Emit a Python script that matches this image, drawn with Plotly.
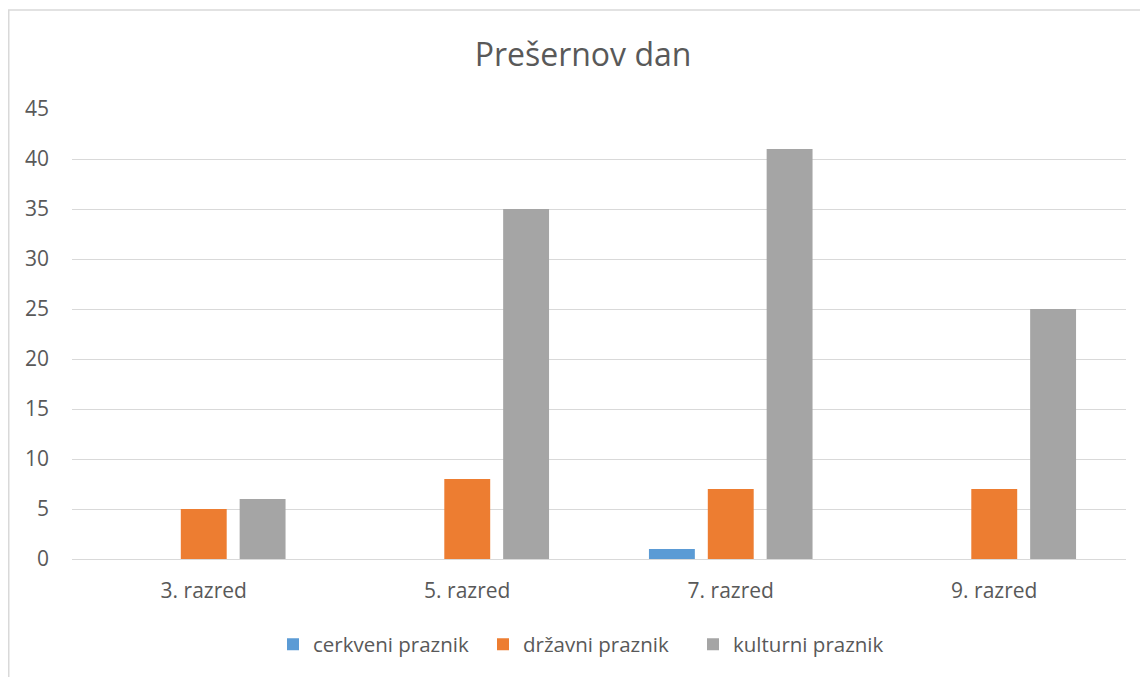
import plotly.graph_objects as go

categories = ["3. razred", "5. razred", "7. razred", "9. razred"]
cerkveni = [0, 0, 1, 0]
drzavni = [5, 8, 7, 7]
kulturni = [6, 35, 41, 25]
series_names = ["cerkveni praznik", "državni praznik", "kulturni praznik"]
colors = ["#5B9BD5", "#ED7D31", "#A5A5A5"]
y_ticks = [0, 5, 10, 15, 20, 25, 30, 35, 40, 45]

OFF = 8  # page body margin
W, H = 1148 - OFF, 677 - OFF
L = 72 - OFF
R = W - (1126 - OFF)
T = 108.7 - OFF
B = H - (558.7 - OFF)
pw, ph = W - L - R, H - T - B

def px_x(X):
    return (X - OFF - L) / pw

def px_y(Y):
    return (H - B - (Y - OFF)) / ph

fig = go.Figure()
for name, vals, col in zip(series_names, [cerkveni, drzavni, kulturni], colors):
    fig.add_trace(go.Bar(x=categories, y=vals, name=name, marker=dict(color=col, line=dict(width=0))))

font_family = "Open Sans, DejaVu Sans, sans-serif"
txt = "#595959"

fig.update_layout(
    width=W, height=H,
    margin=dict(l=L, r=R, t=T, b=B, pad=0),
    paper_bgcolor="white", plot_bgcolor="white",
    barmode="group", bargap=0.33, bargroupgap=0.22,
    font=dict(family=font_family, color=txt, size=21),
    title=dict(text="Prešernov dan", x=(583 - OFF) / W, xanchor="center",
               y=1 - (55 - OFF) / H, yanchor="middle",
               font=dict(size=32, color=txt, family=font_family)),
    xaxis=dict(showgrid=False, showline=False, ticks="", ticklabelstandoff=17,
               tickfont=dict(size=21, color=txt)),
    yaxis=dict(range=[0, 45], tickvals=y_ticks, showgrid=True, gridcolor="#D9D9D9", gridwidth=1,
               zeroline=True, zerolinecolor="#D9D9D9", zerolinewidth=1, showline=False,
               ticks="", ticklabelstandoff=22, tickfont=dict(size=21, color=txt)),
    legend=dict(orientation="h", x=px_x(588), xanchor="center", y=px_y(644), yanchor="middle",
                font=dict(size=20.5, color=txt), traceorder="normal", itemwidth=30,
                entrywidth=165, entrywidthmode="pixels"),
    showlegend=True,
    shapes=[dict(type="rect", xref="paper", yref="paper",
                 x0=px_x(8.75), x1=px_x(1170), y0=px_y(700), y1=px_y(9.75),
                 line=dict(color="#D9D9D9", width=1.5), fillcolor="rgba(0,0,0,0)", layer="below")],
)

fig.write_html("out.html")
